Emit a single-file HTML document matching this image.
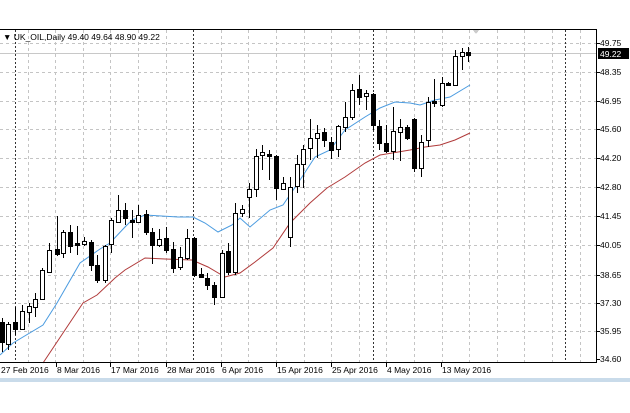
<!DOCTYPE html>
<html><head><style>body{margin:0;background:#fff}svg{display:block}text{font-family:"Liberation Sans",sans-serif;font-size:8.5px;fill:#000}.w{fill:#fff;stroke:#000}.b{fill:#000;stroke:#000}</style></head><body>
<svg width="630" height="413" xmlns="http://www.w3.org/2000/svg" shape-rendering="crispEdges">
<rect width="630" height="413" fill="#fff"/>
<g stroke="#c4c4c4" stroke-dasharray="3,3" stroke-width="1">
<line x1="0" x2="596" y1="43.5" y2="43.5"/><line x1="0" x2="596" y1="72.5" y2="72.5"/><line x1="0" x2="596" y1="101.5" y2="101.5"/><line x1="0" x2="596" y1="129.5" y2="129.5"/><line x1="0" x2="596" y1="158.5" y2="158.5"/><line x1="0" x2="596" y1="187.5" y2="187.5"/><line x1="0" x2="596" y1="216.5" y2="216.5"/><line x1="0" x2="596" y1="245.5" y2="245.5"/><line x1="0" x2="596" y1="275.5" y2="275.5"/><line x1="0" x2="596" y1="303.5" y2="303.5"/><line x1="0" x2="596" y1="331.5" y2="331.5"/>
<line x1="28.5" x2="28.5" y1="30" y2="362"/><line x1="55.5" x2="55.5" y1="30" y2="362"/><line x1="83.5" x2="83.5" y1="30" y2="362"/><line x1="110.5" x2="110.5" y1="30" y2="362"/><line x1="138.5" x2="138.5" y1="30" y2="362"/><line x1="166.5" x2="166.5" y1="30" y2="362"/><line x1="221.5" x2="221.5" y1="30" y2="362"/><line x1="248.5" x2="248.5" y1="30" y2="362"/><line x1="276.5" x2="276.5" y1="30" y2="362"/><line x1="304.5" x2="304.5" y1="30" y2="362"/><line x1="331.5" x2="331.5" y1="30" y2="362"/><line x1="359.5" x2="359.5" y1="30" y2="362"/><line x1="386.5" x2="386.5" y1="30" y2="362"/><line x1="414.5" x2="414.5" y1="30" y2="362"/><line x1="442.5" x2="442.5" y1="30" y2="362"/><line x1="469.5" x2="469.5" y1="30" y2="362"/><line x1="497.5" x2="497.5" y1="30" y2="362"/><line x1="524.5" x2="524.5" y1="30" y2="362"/><line x1="552.5" x2="552.5" y1="30" y2="362"/><line x1="580.5" x2="580.5" y1="30" y2="362"/>
</g>
<g stroke="#333" stroke-dasharray="2,2">
<line x1="15.5" x2="15.5" y1="30" y2="362"/><line x1="193.5" x2="193.5" y1="30" y2="362"/><line x1="373.5" x2="373.5" y1="30" y2="362"/><line x1="565.5" x2="565.5" y1="30" y2="362"/>
</g>
<line x1="0" x2="596" y1="53.5" y2="53.5" stroke="#c8c8c8"/>
<polygon points="472,29 480,29 476,34" fill="#ccc"/>
<g shape-rendering="auto" fill="none" stroke-width="1">
<polyline stroke="#4a9be0" points="0,355 13,343 43,325 57,303 80,263 100,249 110,243 125,227 132,220 145,215 178,217 193,217 205,223 218,232 232,225 240,218 250,227 270,210 283,205 300,180 315,157 330,150 345,130 365,117 380,108 395,102 410,103 420,105 435,100 450,97 470,85"/>
<polyline stroke="#b03a3a" points="43,363 83,303 97,295 115,278 125,270 145,258 165,259 192,260 208,267 225,277 240,273 255,262 273,248 290,223 310,203 327,188 345,177 365,163 380,155 410,150 425,147 440,145 455,140 470,133"/>
</g>
<path stroke="#000" fill="none" d="M2.5 318V352M8.5 322V350M15.5 307V335M22.5 305V330M29.5 303V323M35.5 293V317M42.5 268V300M49.5 243V273M57.5 216V256M63.5 230V258M70.5 225V253M77.5 226V255M84.5 237V246M91.5 240V271M97.5 255V283M105.5 245V283M111.5 218V253M118.5 195V223M125.5 203V225M132.5 210V238M138.5 205V223M146.5 210V235M152.5 228V264M159.5 229V247M166.5 227V253M173.5 242V273M180.5 247V270M187.5 229V260M194.5 237V277M201.5 268V278M207.5 273V290M214.5 282V305M222.5 250V298M228.5 243V275M235.5 203V275M242.5 205V217M249.5 183V218M256.5 149V197M262.5 145V170M269.5 150V180M276.5 155V200M283.5 177V190M290.5 177V247M297.5 155V193M303.5 145V188M310.5 119V160M317.5 125V158M324.5 128V147M331.5 137V159M338.5 125V157M345.5 102V132M352.5 84V120M359.5 75V105M366.5 90V110M373.5 93V130M379.5 120V150M386.5 125V153M393.5 107V160M400.5 119V161M407.5 125V140M414.5 118V172M421.5 135V177M428.5 97V147M434.5 79V107M442.5 77V107M448.5 82V86M455.5 50V86M462.5 48V70M468.5 47V62"/>
<g>
<rect class="b" x="0.5" y="322.5" width="4" height="20"/>
<rect class="w" x="6.5" y="324.5" width="4" height="20"/>
<rect class="b" x="13.5" y="322.5" width="4" height="7"/>
<rect class="w" x="20.5" y="311.5" width="4" height="18"/>
<rect class="w" x="27.5" y="306.5" width="4" height="6"/>
<rect class="w" x="33.5" y="299.5" width="4" height="8"/>
<rect class="w" x="40.5" y="270.5" width="4" height="29"/>
<rect class="w" x="47.5" y="250.5" width="4" height="22"/>
<rect class="b" x="55.5" y="249.5" width="4" height="5"/>
<rect class="w" x="61.5" y="232.5" width="4" height="21"/>
<rect class="b" x="68.5" y="232.5" width="4" height="14"/>
<rect class="b" x="75.5" y="243.5" width="4" height="2"/>
<rect class="w" x="82.5" y="241.5" width="4" height="3"/>
<rect class="b" x="89.5" y="242.5" width="4" height="23"/>
<rect class="b" x="95.5" y="265.5" width="4" height="15"/>
<rect class="w" x="103.5" y="246.5" width="4" height="34"/>
<rect class="w" x="109.5" y="220.5" width="4" height="24"/>
<rect class="w" x="116.5" y="210.5" width="4" height="12"/>
<rect class="b" x="123.5" y="210.5" width="4" height="8"/>
<rect class="b" x="130.5" y="220.5" width="4" height="2"/>
<rect class="w" x="136.5" y="215.5" width="4" height="7"/>
<rect class="b" x="144.5" y="214.5" width="4" height="18"/>
<rect class="b" x="150.5" y="232.5" width="4" height="13"/>
<rect class="w" x="157.5" y="239.5" width="4" height="6"/>
<rect class="b" x="164.5" y="238.5" width="4" height="12"/>
<rect class="b" x="171.5" y="249.5" width="4" height="19"/>
<rect class="w" x="178.5" y="257.5" width="4" height="10"/>
<rect class="w" x="185.5" y="238.5" width="4" height="20"/>
<rect class="b" x="192.5" y="238.5" width="4" height="37"/>
<rect class="b" x="199.5" y="274.5" width="4" height="3"/>
<rect class="b" x="205.5" y="278.5" width="4" height="7"/>
<rect class="b" x="212.5" y="285.5" width="4" height="12"/>
<rect class="w" x="220.5" y="253.5" width="4" height="44"/>
<rect class="b" x="226.5" y="251.5" width="4" height="21"/>
<rect class="w" x="233.5" y="213.5" width="4" height="59"/>
<rect class="w" x="240.5" y="209.5" width="4" height="4"/>
<rect class="w" x="247.5" y="189.5" width="4" height="8"/>
<rect class="w" x="254.5" y="156.5" width="4" height="33"/>
<rect class="w" x="260.5" y="152.5" width="4" height="3"/>
<rect class="b" x="267.5" y="154.5" width="4" height="2"/>
<rect class="b" x="274.5" y="156.5" width="4" height="32"/>
<rect class="w" x="281.5" y="183.5" width="4" height="6"/>
<rect class="w" x="288.5" y="187.5" width="4" height="50"/>
<rect class="w" x="295.5" y="164.5" width="4" height="22"/>
<rect class="w" x="301.5" y="149.5" width="4" height="15"/>
<rect class="w" x="308.5" y="138.5" width="4" height="10"/>
<rect class="w" x="315.5" y="133.5" width="4" height="5"/>
<rect class="b" x="322.5" y="132.5" width="4" height="8"/>
<rect class="b" x="329.5" y="142.5" width="4" height="8"/>
<rect class="w" x="336.5" y="126.5" width="4" height="23"/>
<rect class="w" x="343.5" y="117.5" width="4" height="10"/>
<rect class="w" x="350.5" y="90.5" width="4" height="27"/>
<rect class="b" x="357.5" y="89.5" width="4" height="8"/>
<rect class="w" x="364.5" y="93.5" width="4" height="3"/>
<rect class="b" x="371.5" y="94.5" width="4" height="31"/>
<rect class="b" x="377.5" y="126.5" width="4" height="17"/>
<rect class="b" x="384.5" y="143.5" width="4" height="8"/>
<rect class="w" x="391.5" y="131.5" width="4" height="20"/>
<rect class="w" x="398.5" y="127.5" width="4" height="5"/>
<rect class="b" x="405.5" y="127.5" width="4" height="11"/>
<rect class="b" x="412.5" y="119.5" width="4" height="49"/>
<rect class="w" x="419.5" y="142.5" width="4" height="26"/>
<rect class="w" x="426.5" y="102.5" width="4" height="38"/>
<rect class="b" x="432.5" y="101.5" width="4" height="2"/>
<rect class="w" x="440.5" y="83.5" width="4" height="22"/>
<rect class="b" x="446.5" y="83.5" width="4" height="2"/>
<rect class="w" x="453.5" y="56.5" width="4" height="29"/>
<rect class="w" x="460.5" y="52.5" width="4" height="4"/>
<rect class="b" x="466.5" y="52.5" width="4" height="3"/>
</g>
<rect x="0" y="29" width="596" height="1" fill="#000"/>
<rect x="596" y="29" width="1" height="334" fill="#000"/>
<rect x="0" y="362" width="597" height="1" fill="#000"/>
<rect x="0" y="378" width="630" height="4" fill="#c9dbea"/>
<text x="3" y="40" font-size="8">▼ UK_OIL,Daily  49.40 49.64 48.90 49.22</text>
<g>
<text x="600" y="46">49.75</text><text x="600" y="75">48.35</text><text x="600" y="104">46.95</text><text x="600" y="132">45.60</text><text x="600" y="161">44.20</text><text x="600" y="190">42.80</text><text x="600" y="219">41.45</text><text x="600" y="248">40.05</text><text x="600" y="278">38.65</text><text x="600" y="306">37.30</text><text x="600" y="334">35.95</text><text x="600" y="362">34.60</text>
</g>
<rect x="598" y="48" width="31" height="11" fill="#000"/><text x="600" y="57" style="fill:#fff">49.22</text>
<g stroke="#000"><line x1="596" x2="600" y1="43.5" y2="43.5"/><line x1="596" x2="600" y1="72.5" y2="72.5"/><line x1="596" x2="600" y1="101.5" y2="101.5"/><line x1="596" x2="600" y1="129.5" y2="129.5"/><line x1="596" x2="600" y1="158.5" y2="158.5"/><line x1="596" x2="600" y1="187.5" y2="187.5"/><line x1="596" x2="600" y1="216.5" y2="216.5"/><line x1="596" x2="600" y1="245.5" y2="245.5"/><line x1="596" x2="600" y1="275.5" y2="275.5"/><line x1="596" x2="600" y1="303.5" y2="303.5"/><line x1="596" x2="600" y1="331.5" y2="331.5"/><line x1="596" x2="600" y1="359.5" y2="359.5"/>
<line x1="56.5" x2="56.5" y1="362" y2="367"/><line x1="110.5" x2="110.5" y1="362" y2="367"/><line x1="166.5" x2="166.5" y1="362" y2="367"/><line x1="221.5" x2="221.5" y1="362" y2="367"/><line x1="276.5" x2="276.5" y1="362" y2="367"/><line x1="331.5" x2="331.5" y1="362" y2="367"/><line x1="386.5" x2="386.5" y1="362" y2="367"/><line x1="441.5" x2="441.5" y1="362" y2="367"/></g>
<text x="1" y="373">27 Feb 2016</text><text x="57" y="373">8 Mar 2016</text><text x="111" y="373">17 Mar 2016</text><text x="167" y="373">28 Mar 2016</text><text x="222" y="373">6 Apr 2016</text><text x="277" y="373">15 Apr 2016</text><text x="332" y="373">25 Apr 2016</text><text x="387" y="373">4 May 2016</text><text x="442" y="373">13 May 2016</text>
</svg>
</body></html>
